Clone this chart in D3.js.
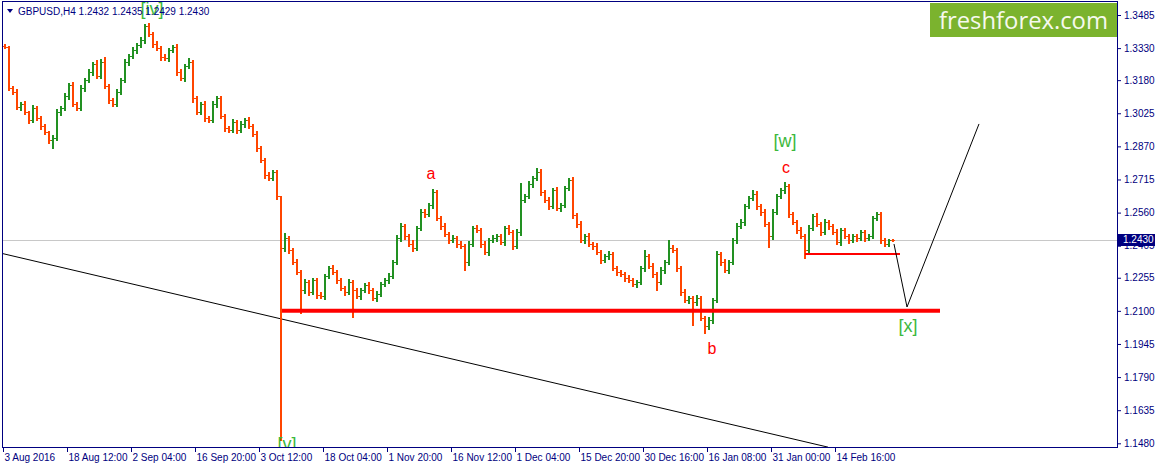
<!DOCTYPE html>
<html><head><meta charset="utf-8">
<script src="https://cdn.jsdelivr.net/npm/d3@7"></script>
<style>
body{margin:0;background:#fff;}
svg{display:block;font-family:"Liberation Sans",Arial,sans-serif;}
</style>
</head><body>
<svg id="c" width="1157" height="468"></svg>
<script>
// ---------- data ----------
const symbol = "GBPUSD,H4";
const quote = ["1.2432", "1.2435", "1.2429", "1.2430"];
const timeLabels = ["3 Aug 2016","18 Aug 12:00","2 Sep 04:00","16 Sep 20:00","3 Oct 12:00","18 Oct 04:00","1 Nov 20:00","16 Nov 12:00","1 Dec 04:00","15 Dec 20:00","30 Dec 16:00","16 Jan 08:00","31 Jan 00:00","14 Feb 16:00"];
const barsPerLabel = 16;
const priceTicks = [1.3485,1.3330,1.3180,1.3025,1.2870,1.2715,1.2560,1.2405,1.2255,1.2100,1.1945,1.1790,1.1635,1.1480];
const firstOpen = 1.3340;
const closes = [
1.3335,1.3143,1.3125,1.3054,1.3068,1.3031,1.2993,1.3050,1.3003,1.2965,
1.2937,1.2900,1.2909,1.3031,1.3050,1.3106,1.3157,1.3068,1.3050,1.3143,
1.3181,1.3218,1.3256,1.3199,1.3265,1.3153,1.3087,1.3068,1.3125,1.3181,
1.3265,1.3293,1.3321,1.3345,1.3368,1.3434,1.3396,1.3349,1.3331,1.3288,
1.3284,1.3321,1.3335,1.3218,1.3190,1.3246,1.3265,1.3096,1.3031,1.3068,
1.3003,1.2993,1.3068,1.3096,1.3012,1.2956,1.2947,1.2984,1.2947,1.2975,
1.2993,1.2965,1.2928,1.2862,1.2806,1.2736,1.2722,1.2750,1.2638,1.2394,
1.2441,1.2385,1.2329,1.2282,1.2197,1.2235,1.2188,1.2244,1.2174,1.2169,
1.2263,1.2300,1.2282,1.2244,1.2207,1.2188,1.2235,1.2197,1.2169,1.2197,
1.2221,1.2197,1.2160,1.2179,1.2226,1.2244,1.2263,1.2329,1.2441,1.2497,
1.2450,1.2413,1.2394,1.2488,1.2563,1.2553,1.2595,1.2656,1.2535,1.2497,
1.2460,1.2432,1.2441,1.2413,1.2404,1.2329,1.2413,1.2488,1.2478,1.2413,
1.2375,1.2432,1.2441,1.2450,1.2422,1.2488,1.2469,1.2404,1.2469,1.2619,
1.2638,1.2694,1.2722,1.2750,1.2656,1.2619,1.2591,1.2666,1.2581,1.2595,
1.2675,1.2712,1.2549,1.2507,1.2432,1.2450,1.2413,1.2404,1.2375,1.2338,
1.2357,1.2366,1.2300,1.2282,1.2272,1.2254,1.2244,1.2226,1.2235,1.2300,
1.2357,1.2310,1.2272,1.2235,1.2291,1.2329,1.2394,1.2385,1.2300,1.2188,
1.2151,1.2160,1.2141,1.2160,1.2066,1.2029,1.2057,1.2151,1.2366,1.2329,
1.2291,1.2329,1.2432,1.2497,1.2516,1.2591,1.2628,1.2647,1.2591,1.2563,
1.2507,1.2450,1.2563,1.2638,1.2666,1.2684,1.2553,1.2516,1.2478,1.2450,
1.2385,1.2488,1.2544,1.2507,1.2469,1.2516,1.2497,1.2469,1.2422,1.2478,
1.2450,1.2432,1.2450,1.2441,1.2469,1.2441,1.2450,1.2535,1.2553,1.2432,
1.2413,1.2432,1.2430];
// wick extension above / below the bar body, in pips
const highPips = [
8,6,10,12,8,14,6,12,10,8, 10,6,12,14,8,12,10,16,8,12, 10,14,8,18,12,22,10,8,14,10,
12,8,14,10,16,8,12,10,14,8, 16,10,8,12,14,10,20,8,12,10, 14,10,16,8,12,10,8,14,10,12,
8,14,10,12,8,10,14,8,10,0, 22,10,8,14,10,16,8,12,10,14, 10,8,16,10,12,8,14,10,8,12,
10,14,8,12,10,8,12,10,16,14, 10,12,18,10,14,12,10,8,12,10, 14,10,12,8,16,10,12,8,14,10,
12,10,14,8,12,10,16,8,12,0, 10,12,8,10,14,10,12,8,14,10, 8,12,16,10,12,8,14,10,12,8,
10,14,8,12,10,8,12,10,8,12, 0,10,12,8,14,10,0,12,10,8, 12,10,8,14,10,8,12,10,14,10,
12,8,10,14,12,10,8,0,12,10, 14,10,12,8,10,0,12,10,8,14, 10,12,8,14,10,12,8,10,14,8,
12,10,8,12,10,8,12,10,0,10, 8,6,4];
const lowPips = [
6,10,8,10,14,8,12,8,10,12, 8,12,0,10,12,8,14,10,12,8, 12,8,14,10,8,12,16,10,8,12,
10,12,8,14,10,12,8,14,10,12, 8,12,10,14,8,12,10,16,10,8, 12,8,10,14,10,12,8,10,14,8,
12,10,8,14,10,12,8,10,14,0, 16,12,10,8,0,12,14,8,12,10, 12,10,8,14,10,12,8,0,10,14,
8,12,10,14,8,10,12,8,10,12, 14,8,12,10,8,12,10,14,8,12, 10,14,8,12,10,0,12,10,8,14,
10,12,8,14,10,12,8,14,10,12, 8,10,12,8,14,10,12,8,10,14, 10,8,12,14,10,12,8,14,10,12,
8,12,10,14,8,12,10,8,12,10, 14,8,12,0,10,12,8,10,14,12, 10,14,0,12,10,0,12,14,10,12,
8,12,10,14,8,12,10,8,12,14, 10,0,12,8,10,12,14,10,12,8, 0,12,10,8,14,10,12,8,10,12,
8,12,10,14,8,12,10,8,12,14, 10,8,4];
// extreme wicks: [bar index, price]
const wicks = [[12,1.2862],[25,1.3274],[35,1.3443],[69,1.1495],[74,1.2090],[87,1.2071],[107,1.2670],[115,1.2291],[129,1.2698],[133,1.2769],[160,1.2385],[163,1.2197],[166,1.2432],[172,1.2034],[175,1.1996],[187,1.2666],[191,1.2399],[195,1.2703],[200,1.2347],[218,1.2563]];
const lastPrice = 1.2430;
// drawn objects, [slot, price]
const trendLine = [[-0.75,1.2371],[206.25,1.1462]];
const supportLine = [[69.75,1.2100],[234.25,1.2100]];
const localLine = [[200.5,1.2366],[224.25,1.2366]];
const projection = [[222.75,1.2413],[226,1.2118],[244,1.2975]];
const waveLabels = [
  {t:"[iv]", s:37.25, p:1.3485, kind:"g"},
  {t:"[v]", s:71, p:1.1449, kind:"g"},
  {t:"[w]", s:195.5, p:1.2868, kind:"g"},
  {t:"[x]", s:226.25, p:1.2001, kind:"g"},
  {t:"a", s:107, p:1.2717, kind:"r"},
  {t:"b", s:177.25, p:1.1898, kind:"r"},
  {t:"c", s:195.75, p:1.2745, kind:"r"}
];

// ---------- layout ----------
const L = 2, T = 1, R = 1117, B = 447;
const navy = "#000080";
const pip = 0.0001;
const svg = d3.select("#c");
const x = d3.scaleLinear().domain([0, barsPerLabel]).range([3, 67]);
const y = d3.scaleLinear().domain([1.1480, 1.3485]).range([443.3, 15]);

svg.append("rect").attr("width",1157).attr("height",468).attr("fill","#fff");
svg.append("defs").append("clipPath").attr("id","plot")
  .append("rect").attr("x",L+1).attr("y",T+1).attr("width",R-L-1).attr("height",B-T-1);

const plot = svg.append("g").attr("clip-path","url(#plot)");

// current price line
plot.append("line").attr("x1",L).attr("x2",R)
  .attr("y1",Math.round(y(lastPrice))+0.5).attr("y2",Math.round(y(lastPrice))+0.5)
  .attr("stroke","#c8c8c8").attr("stroke-width",1);

// trend line
const line = d3.line().x(d=>x(d[0])).y(d=>y(d[1]));
plot.append("path").attr("d",line(trendLine)).attr("fill","none").attr("stroke","#000").attr("stroke-width",1);

// bars
const wickMap = new Map(wicks);
const bars = closes.map((c,i)=>{
  const o = i ? closes[i-1] : firstOpen;
  let hi = Math.max(o,c) + highPips[i]*pip, lo = Math.min(o,c) - lowPips[i]*pip;
  if (wickMap.has(i)) { const w = wickMap.get(i); hi = Math.max(hi,w); lo = Math.min(lo,w); }
  return {i,o,c,hi,lo};
});
const colorOf = d => d.c > d.o ? "#229122" : (d.c < d.o ? "#ff4500" : "#000");
const bg = plot.append("g").attr("shape-rendering","crispEdges");
bars.forEach(d=>{
  const cx = Math.round(x(d.i+0.5));
  const g = bg.append("g").attr("fill",colorOf(d));
  const y1 = Math.round(y(d.hi)), y2 = Math.round(y(d.lo));
  g.append("rect").attr("x",cx-1).attr("y",y1).attr("width",2).attr("height",Math.max(1,y2-y1+1));
  g.append("rect").attr("x",cx-2).attr("y",Math.round(y(d.o))).attr("width",1).attr("height",1);
  g.append("rect").attr("x",cx+1).attr("y",Math.round(y(d.c))).attr("width",1).attr("height",1);
});

// support lines
plot.append("path").attr("d",line(supportLine)).attr("stroke","#ff0000").attr("stroke-width",4).attr("fill","none");
plot.append("path").attr("d",line(localLine)).attr("stroke","#ff0000").attr("stroke-width",2).attr("fill","none");
// projection
plot.append("path").attr("d",line(projection)).attr("stroke","#000").attr("stroke-width",1).attr("fill","none");

// wave labels
plot.selectAll("text.wl").data(waveLabels).enter().append("text")
  .attr("x",d=>x(d.s)).attr("y",d=>y(d.p))
  .attr("text-anchor","middle")
  .attr("font-size",d=>d.kind==="g"?18:16)
  .attr("fill",d=>d.kind==="g"?"#3cb83c":"#ff0000")
  .text(d=>d.t);

// title
svg.append("path").attr("d","M7,9 L13,9 L10,13 Z").attr("fill",navy);
svg.append("text").attr("x",18).attr("y",15).attr("font-size",10).attr("fill",navy)
  .text(symbol + "  " + quote.join(" "));

// logo
svg.append("rect").attr("x",930).attr("y",3).attr("width",R-930).attr("height",34).attr("fill","#7bb32e");
svg.append("text").attr("x",939).attr("y",28.5).attr("font-family","'Open Sans',sans-serif")
  .attr("font-size",24).attr("fill","#f6f9ee").attr("textLength",169).attr("lengthAdjust","spacingAndGlyphs")
  .text("freshforex.com");

// frame
svg.append("rect").attr("x",L+0.5).attr("y",T+0.5).attr("width",R-L).attr("height",B-T)
  .attr("fill","none").attr("stroke",navy).attr("stroke-width",1);

// axes
const xAxis = d3.axisBottom(x)
  .tickValues(timeLabels.map((d,i)=>i*barsPerLabel))
  .tickFormat((d,i)=>timeLabels[i]).tickSize(5).tickPadding(2);
const gx = svg.append("g").attr("transform",`translate(0,${B})`).call(xAxis);
gx.select(".domain").remove();
gx.selectAll("line").attr("stroke",navy);
gx.selectAll("text").attr("text-anchor","start").attr("dx","1").attr("fill",navy)
  .attr("font-size",10).attr("font-family","'Liberation Sans',Arial,sans-serif");

const yAxis = d3.axisRight(y).tickValues(priceTicks).tickFormat(d3.format(".4f")).tickSize(4).tickPadding(3);
const gy = svg.append("g").attr("transform",`translate(${R},0)`).call(yAxis);
gy.select(".domain").remove();
gy.selectAll("line").attr("stroke",navy);
gy.selectAll("text").attr("fill",navy).attr("font-size",10).attr("font-family","'Liberation Sans',Arial,sans-serif");

// current price tag
const ly = Math.round(y(lastPrice));
svg.append("rect").attr("x",R).attr("y",ly-6).attr("width",38).attr("height",12).attr("fill",navy);
svg.append("text").attr("x",R+6).attr("y",ly).attr("dy","0.34em").attr("font-size",10).attr("fill","#fff").text(d3.format(".4f")(lastPrice));
</script>
</body></html>
